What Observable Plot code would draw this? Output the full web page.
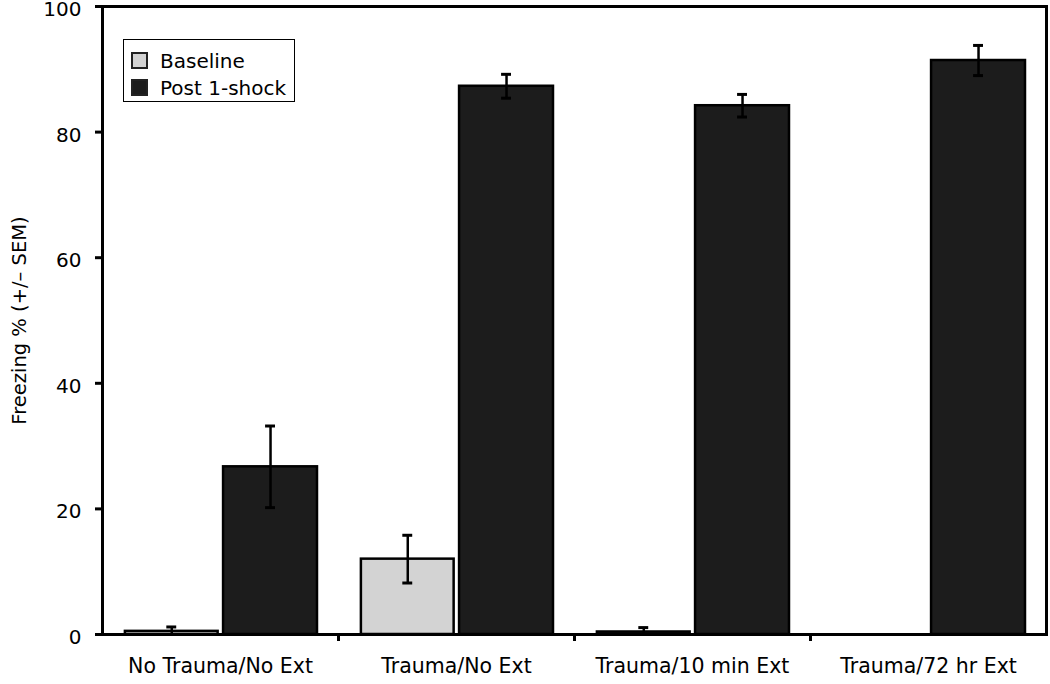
<!DOCTYPE html>
<html><head><meta charset="utf-8">
<script src="https://cdn.jsdelivr.net/npm/d3@7"></script>
<script src="https://cdn.jsdelivr.net/npm/@observablehq/plot@0.6"></script>
<style>
body{margin:0;background:#fff;}
#wrap{position:relative;width:1050px;height:684px;font-family:"DejaVu Sans",sans-serif;}
.legend{position:absolute;left:123px;top:39px;width:172px;height:63px;box-sizing:border-box;border:1.5px solid #000;background:#fff;padding:7px 0 0 7px;}
.legend .row{display:flex;align-items:center;height:27px;font-size:20px;color:#000;}
.legend .sw{width:13px;height:13px;border:2px solid #222;margin-right:12px;}
</style>
</head><body><div id="wrap"></div>
<script>
// ---- data ----
const groups = ["No Trauma/No Ext", "Trauma/No Ext", "Trauma/10 min Ext", "Trauma/72 hr Ext"];
const conditions = ["Baseline", "Post 1-shock"];
const colors = ["#d3d3d3", "#1c1c1c"];
const baseline = [0.5, 12.0, 0.4, 0];
const baselineSem = [0.7, 3.8, 0.7, 0];
const post = [26.7, 87.3, 84.2, 91.4];
const postSem = [6.5, 1.9, 1.8, 2.4];
const yTicks = [0, 20, 40, 60, 80, 100];
const yLabel = "Freezing % (+/– SEM)";

// ---- table ----
const rows = [];
groups.forEach((g, i) => {
  rows.push({group: g, gi: i, cond: conditions[0], value: baseline[i], sem: baselineSem[i]});
  rows.push({group: g, gi: i, cond: conditions[1], value: post[i], sem: postSem[i]});
});
// position of each bar inside its group band (fraction of band)
const start = {[conditions[0]]: 0.097, [conditions[1]]: 0.513};
const end = {[conditions[0]]: 0.49, [conditions[1]]: 0.911};
const center = d => d.gi + (start[d.cond] + end[d.cond]) / 2;
const drawn = rows.filter(d => d.value > 0);
const errs = drawn.filter(d => d.sem > 0);
const lowErrs = errs.filter(d => d.value - d.sem > 0);
const capHalf = 0.021;

const plot = Plot.plot({
  width: 1050,
  height: 684,
  marginLeft: 102,
  marginRight: 4,
  marginTop: 6,
  marginBottom: 50,
  style: {fontFamily: '"DejaVu Sans", sans-serif', fontSize: "20px", color: "#000", background: "#fff", overflow: "visible"},
  x: {domain: [0, groups.length], axis: null},
  y: {domain: [0, 100], axis: null},
  color: {domain: conditions, range: colors},
  marks: [
    Plot.rect(drawn, {
      x1: d => d.gi + start[d.cond], x2: d => d.gi + end[d.cond],
      y1: 0, y2: "value", fill: "cond", stroke: "#000", strokeWidth: 2.5
    }),
    Plot.ruleX(errs, {x: center, y1: d => Math.max(0, d.value - d.sem), y2: d => d.value + d.sem, stroke: "#000", strokeWidth: 2.5}),
    Plot.ruleY(errs, {y: d => d.value + d.sem, x1: d => center(d) - capHalf, x2: d => center(d) + capHalf, stroke: "#000", strokeWidth: 3}),
    Plot.ruleY(lowErrs, {y: d => d.value - d.sem, x1: d => center(d) - capHalf, x2: d => center(d) + capHalf, stroke: "#000", strokeWidth: 3}),
    Plot.frame({stroke: "#000", strokeWidth: 3}),
    Plot.axisY({ticks: yTicks, tickSize: 7, strokeWidth: 3, tickFormat: () => "", label: null}),
    Plot.axisY({ticks: yTicks, tickSize: 0, tickPadding: 21, fontSize: 20, dy: 3, label: null}),
    Plot.axisY({ticks: [], tickSize: 0, fontSize: 19.5, label: yLabel, labelAnchor: "center", labelArrow: "none", labelOffset: 90}),
    Plot.axisX({ticks: d3.range(1, groups.length), tickSize: 7, tickFormat: () => "", strokeWidth: 3, label: null}),
    Plot.axisX({ticks: groups.map((g, i) => i + 0.5), tickSize: 0, tickPadding: 24,
      tickFormat: t => groups[Math.floor(t)], fontSize: 20.5, label: null})
  ]
});
const wrap = document.getElementById("wrap");
wrap.appendChild(plot);
const leg = document.createElement("div");
leg.className = "legend";
conditions.forEach((c, i) => {
  const r = document.createElement("div");
  r.className = "row";
  r.innerHTML = `<span class="sw" style="background:${colors[i]}"></span><span>${c}</span>`;
  leg.appendChild(r);
});
wrap.appendChild(leg);
</script>
</body></html>
